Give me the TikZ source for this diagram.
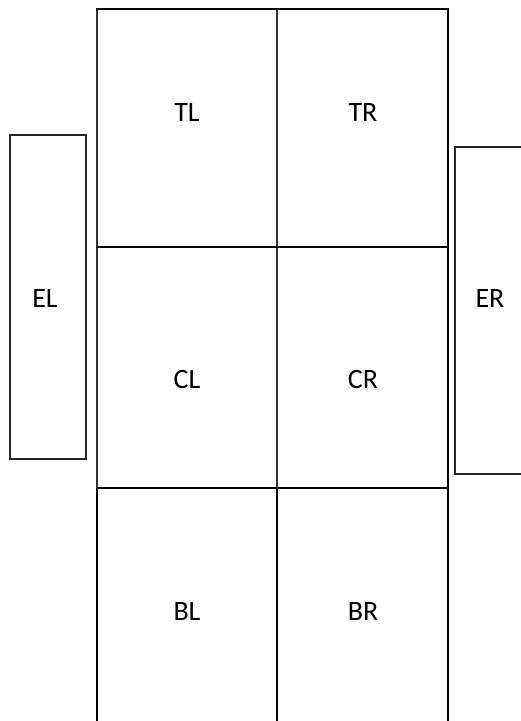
\documentclass[tikz,border=0pt]{standalone}
\usepackage{fontspec}
\setmainfont{Carlito}
\begin{document}
\begin{tikzpicture}[x=1pt,y=-1pt,
  thickline/.style={line width=2.3pt,black},
  thinline/.style={line width=1.1pt,black!80},
  sidebox/.style={line width=1.3pt,black!85},
  lbl/.style={font=\fontsize{28}{32}\selectfont,inner sep=0pt}]
\useasboundingbox (0,0) rectangle (520,721);
% coordinates
\coordinate (a1) at (97,9);
\coordinate (a2) at (277,9);
\coordinate (a3) at (448,9);
\coordinate (b1) at (97,247);
\coordinate (b2) at (277,247);
\coordinate (b3) at (448,247);
\coordinate (c1) at (97,488);
\coordinate (c2) at (277,488);
\coordinate (c3) at (448,488);
\coordinate (d1) at (97,721);
\coordinate (d2) at (277,721);
\coordinate (d3) at (448,721);
% thin verticals (upper part)
\draw[thinline] (a1) -- (c1);
\draw[thinline] (a2) -- (c2);
% thick verticals
\draw[thickline] (c1) -- (d1);
\draw[thickline] (c2) -- (d2);
\draw[thickline] (a3) -- (d3);
% horizontals
\draw[thickline] ([xshift=-0.55pt]a1) -- ([xshift=1.15pt]a3);
\draw[thickline] (b1) -- (b3);
\draw[thickline] (c1) -- (c3);
% side boxes
\draw[sidebox] (10,135) rectangle (86,459);
\draw[sidebox] (530,147) -- (455,147) -- (455,474) -- (530,474);
% labels
\node[lbl] (TL) at (187,113) {TL};
\node[lbl] (TR) at (363,113) {TR};
\node[lbl] (CL) at (187,380) {CL};
\node[lbl] (CR) at (363,380) {CR};
\node[lbl] (BL) at (187,612) {BL};
\node[lbl] (BR) at (363,612) {BR};
\node[lbl] (EL) at (45,299) {EL};
\node[lbl] (ER) at (490,299) {ER};
\end{tikzpicture}
\end{document}
